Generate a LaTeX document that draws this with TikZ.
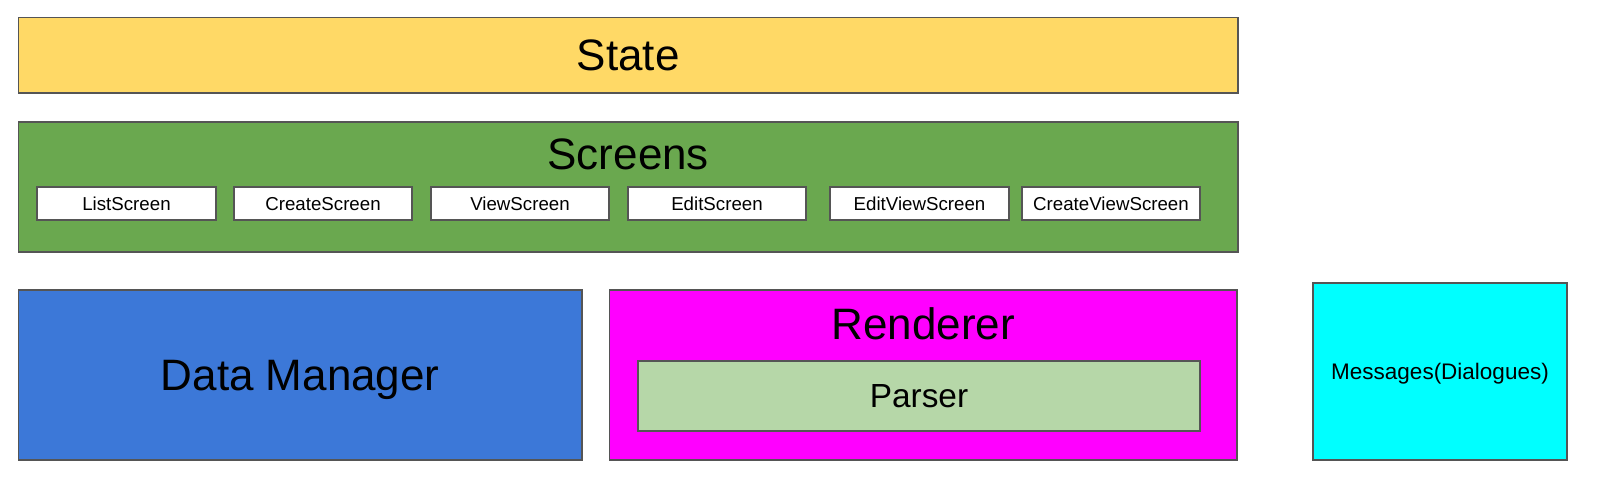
\documentclass[tikz,border=0pt]{standalone}
\usepackage{fontspec}
\setmainfont{Liberation Sans}
\definecolor{stateY}{HTML}{FFD966}
\definecolor{scrG}{HTML}{6AA84F}
\definecolor{dmB}{HTML}{3C78D8}
\definecolor{renM}{HTML}{FF00FF}
\definecolor{parG}{HTML}{B6D7A8}
\definecolor{msgC}{HTML}{00FFFF}
\definecolor{edge}{HTML}{555555}
\tikzset{
  box/.style={draw=edge, line width=1.6pt, inner sep=0pt, rectangle},
  subbox/.style={box, fill=white, minimum width=178pt, minimum height=33pt, text depth=0pt, font=\fontsize{18.7}{20}\selectfont},
  bigtext/.style={font=\fontsize{44}{48}\selectfont, inner sep=0pt},
}
\begin{document}
\begin{tikzpicture}[x=1pt,y=-1pt]
\useasboundingbox (0,0) rectangle (1609,482);
% State
\node[box, fill=stateY, minimum width=1219.5pt, minimum height=75.5pt, bigtext] (state) at (628.25,55.25) {State};
% Screens
\node[box, fill=scrG, minimum width=1219.5pt, minimum height=130pt] (screens) at (628.25,187) {};
\node[bigtext] (scrtitle) at (628.25,154) {Screens};
\node[subbox, minimum width=179pt] (list) at (126.5,203.5) {ListScreen};
\node[subbox, minimum width=178pt] (create) at (323,203.5) {CreateScreen};
\node[subbox, minimum width=178pt] (view) at (520,203.5) {ViewScreen};
\node[subbox, minimum width=178pt] (edit) at (717,203.5) {EditScreen};
\node[subbox, minimum width=179pt] (editview) at (919.5,203.5) {EditViewScreen};
\node[subbox, minimum width=178pt] (createview) at (1111,203.5) {CreateViewScreen};
% Data Manager
\node[box, fill=dmB, minimum width=563.5pt, minimum height=170pt, bigtext, text depth=0pt] (dm) at (300.25,375) {Data Manager};
% Renderer
\node[box, fill=renM, minimum width=627.5pt, minimum height=170pt] (renderer) at (923.25,375) {};
\node[bigtext] (rentitle) at (923.25,324) {Renderer};
\node[box, fill=parG, minimum width=562pt, minimum height=70pt, font=\fontsize{33.4}{36}\selectfont] (parser) at (919,396) {Parser};
% Messages
\node[box, fill=msgC, minimum width=254pt, minimum height=177pt, text depth=0pt, font=\fontsize{22.5}{25}\selectfont] (msg) at (1440,371.5) {Messages(Dialogues)};
\end{tikzpicture}
\end{document}
